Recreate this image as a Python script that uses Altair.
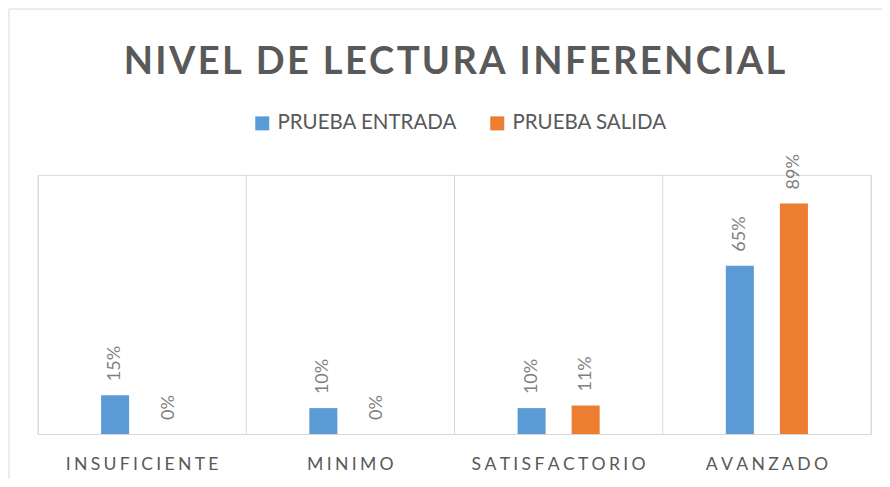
import altair as alt
import pandas as pd

categories = ["INSUFICIENTE", "MINIMO", "SATISFACTORIO", "AVANZADO"]
series = ["PRUEBA ENTRADA", "PRUEBA SALIDA"]
entrada = [15, 10, 10, 65]
salida = [0, 0, 11, 89]
colors = ["#5B9BD5", "#ED7D31"]
title_text = "NIVEL DE LECTURA INFERENCIAL"

rows = []
for i, c in enumerate(categories):
    rows.append({"cat": c, "serie": series[0], "v": entrada[i]})
    rows.append({"cat": c, "serie": series[1], "v": salida[i]})
df = pd.DataFrame(rows)
df["label"] = df["v"].astype(str) + "%"
catdf = pd.DataFrame({"cat": categories})

W, H = 833, 259
GRID = "#d9d9d9"
FONT = "Lato"


def xenc(band_pos=None):
    kw = {}
    if band_pos is not None:
        kw["bandPosition"] = band_pos
    axis = alt.Axis(
        title=None, domainColor=GRID, domainWidth=1, ticks=False, tickSize=0,
        grid=False, labelFont=FONT, labelFontSize=17.6, labelColor="#595959",
        labelAngle=0, labelPadding=35, labelBaseline="alphabetic",
        labelExpr="join(split(datum.label, ''), '\u2009\u200a')",
    )
    return alt.X("cat:N", sort=categories,
                 scale=alt.Scale(paddingInner=0, paddingOuter=0),
                 axis=axis, **kw)


yenc = alt.Y("v:Q", scale=alt.Scale(domain=[0, 100]), axis=None)
# two empty slots around the two series keep the bars near the band centre
xoff = alt.XOffset("serie:N",
                   scale=alt.Scale(domain=["_l"] + series + ["_r"],
                                   paddingInner=0.4815, paddingOuter=0.1667))

base = alt.Chart(df).encode(x=xenc(), xOffset=xoff, y=yenc)

bars = base.mark_bar().encode(
    color=alt.Color(
        "serie:N", sort=series,
        scale=alt.Scale(domain=series, range=colors),
        legend=alt.Legend(
            title=None, orient="none", legendX=214, legendY=-62,
            direction="horizontal", symbolType="square", symbolSize=196,
            symbolStrokeWidth=0, labelFont=FONT, labelFontSize=20.5,
            labelColor="#595959", columnPadding=29, labelOffset=5, padding=0,
            labelLimit=400,
        ),
    )
)

labels = base.mark_text(
    angle=270, align="left", baseline="middle", dx=14,
    font=FONT, fontSize=18, color="#7f7f7f",
).encode(text="label:N")

grid = alt.Chart(catdf).mark_rule(color=GRID, strokeWidth=1).encode(
    x=xenc(band_pos=0), y=alt.value(0), y2=alt.value(H)
)
right_grid = alt.Chart(pd.DataFrame({"a": [0]})).mark_rule(
    color=GRID, strokeWidth=1
).encode(x=alt.value(W), y=alt.value(0), y2=alt.value(H))

border = alt.Chart(pd.DataFrame({"a": [0]})).mark_rect(
    fill="transparent", stroke=GRID, strokeWidth=1
).encode(x=alt.value(-29), y=alt.value(-166), x2=alt.value(W + 40), y2=alt.value(H + 80))

chart = alt.layer(border, grid, right_grid, bars, labels).properties(
    width=W, height=H,
    autosize="none",
    padding={"left": 30, "top": 167, "right": 11, "bottom": 45},
    title=alt.TitleParams(
        text="\u200a".join(title_text), font=FONT, fontSize=38,
        fontWeight="bold", color="#595959", anchor="middle",
        frame="group", baseline="alphabetic", offset=-103,
    ),
).configure_view(stroke=None).configure(background="white")

chart.save("out.html", embed_options={"renderer": "svg", "actions": False})
